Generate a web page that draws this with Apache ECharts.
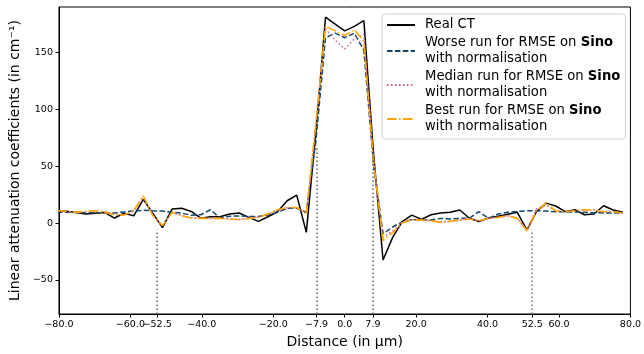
<!DOCTYPE html>
<html>
<head>
<meta charset="utf-8">
<script src="https://cdn.jsdelivr.net/npm/echarts@6/dist/echarts.min.js"></script>
<style>
  html, body { margin: 0; padding: 0; background: #fff; }
  #chart { width: 644px; height: 354px; }
</style>
</head>
<body>
<div id="chart"></div>
<script>
// sample positions along the profile (in µm)
const distance = [
  -80.55, -77.87, -75.18, -72.50, -69.81, -67.13, -64.44, -61.76, -59.07, -56.39,
  -53.70, -51.02, -48.33, -45.65, -42.96, -40.28, -37.59, -34.91, -32.22, -29.54,
  -26.85, -24.17, -21.48, -18.80, -16.11, -13.43, -10.74, -8.06, -5.37, -2.69,
  0, 2.69, 5.37, 8.06, 10.74, 13.43, 16.11, 18.80, 21.48, 24.17,
  26.85, 29.54, 32.22, 34.91, 37.59, 40.28, 42.96, 45.65, 48.33, 51.02,
  53.70, 56.39, 59.07, 61.76, 64.44, 67.13, 69.81, 72.50, 75.18, 77.87
];

const realCT = [
  10.8, 10.3, 9.2, 8.0, 8.6, 9.2, 4.4, 8.6, 6.4, 20.8,
  8.5, -4.1, 12.3, 13.0, 10.2, 4.3, 5.5, 5.5, 7.9, 8.8,
  5.0, 1.5, 5.5, 9.9, 19.6, 24.6, -8.2, 80, 181, 175,
  169, 173, 178, 62, -32.5, -12.6, 1.2, 7.0, 3.2, 7.3,
  8.8, 9.4, 11.5, 4.2, 1.3, 4.4, 6.0, 7.8, 9.4, -6.2,
  10.0, 17.5, 15.0, 10.0, 11.7, 7.3, 7.9, 15.2, 11.5, 9.4
];

const worseRun = [
  9.4, 9.4, 9.3, 9.0, 9.0, 9.2, 8.8, 9.8, 10.8, 11.2,
  10.8, 10.5, 9.5, 8.8, 6.8, 7.3, 11.7, 4.5, 6.0, 6.2,
  5.8, 5.8, 7.0, 9.4, 13.0, 13.0, 9.4, 72, 163, 167,
  163, 167, 152, 52, -9.5, -3.5, 1.0, 3.0, 2.8, 2.6,
  4.1, 3.6, 4.1, 4.4, 10.0, 4.1, 7.9, 9.4, 10.2, 10.8,
  10.8, 10.5, 10.0, 9.8, 9.6, 9.4, 9.0, 8.9, 8.8, 8.8
];

const medianRun = [
  10.5, 10.0, 9.6, 9.8, 10.3, 10.0, 7.5, 7.2, 10.5, 22.5,
  7.0, -2.0, 9.0, 6.6, 4.6, 4.3, 4.3, 4.3, 3.8, 3.2,
  4.3, 5.2, 8.0, 11.5, 13.5, 13.5, 8.7, 85, 171, 161,
  153, 162, 166, 55, -12.5, -7.0, 0.3, 2.9, 2.7, 2.2,
  0.8, 1.6, 2.6, 3.5, 2.2, 4.1, 5.0, 6.4, 4.2, -6.5,
  12.5, 15.5, 11.0, 10.0, 10.8, 11.5, 11.4, 10.2, 10.0, 9.0
];

const bestRun = [
  10.8, 10.3, 9.4, 10.3, 10.8, 9.4, 7.3, 7.0, 10.8, 24.0,
  6.4, -2.3, 9.4, 6.4, 4.4, 4.1, 4.1, 4.1, 3.5, 2.9,
  4.1, 5.0, 7.9, 11.7, 13.7, 13.7, 8.5, 88, 173, 169,
  165, 170, 160, 55, -15.5, -8.5, 0.0, 2.9, 2.6, 2.0,
  0.6, 1.5, 2.6, 3.5, 2.0, 4.1, 5.0, 6.4, 4.1, -6.7,
  10.8, 17.5, 10.8, 9.9, 10.8, 11.7, 11.4, 9.9, 9.9, 8.8
];

// dotted markers: position and the height they reach
const markerX = [-52.5, -7.9, 7.9, 52.5];
const markerTop = [-6, 68, 62, -6];

const xTicks = [-80, -60, -52.5, -40, -20, -7.9, 0, 7.9, 20, 40, 52.5, 60, 80];
const yTicks = [-50, 0, 50, 100, 150];

const seriesNames = [
  'Real CT',
  'Worse run for RMSE on Sino\nwith normalisation',
  'Median run for RMSE on Sino\nwith normalisation',
  'Best run for RMSE on Sino\nwith normalisation'
];

const FONT = 'DejaVu Sans';
const minus = (s) => s.replace('-', '\u2212');
const pairs = (ys) => distance.map((x, i) => [x, ys[i]]);

const chart = echarts.init(document.getElementById('chart'), null, { renderer: 'canvas' });

const lineSeries = (name, ys, color, type, width) => ({
  name: name,
  type: 'line',
  data: pairs(ys),
  symbol: 'none',
  showSymbol: false,
  clip: true,
  animation: false,
  itemStyle: { color: color },
  lineStyle: { color: color, type: type, width: width }
});

const option = {
  animation: false,
  grid: {
    left: 58, right: 13, top: 7, bottom: 40,
    show: true, borderColor: '#000', borderWidth: 1
  },
  legend: {
    data: seriesNames,
    orient: 'vertical',
    left: 382,
    top: 14,
    padding: [3, 5, 4, 4],
    itemGap: 2,
    itemWidth: 28,
    itemHeight: 14,
    backgroundColor: 'rgba(255,255,255,0.8)',
    borderColor: '#d0d0d0',
    borderWidth: 1,
    borderRadius: 3,
    // hide the marker dot, keep only the line sample
    itemStyle: { color: 'rgba(0,0,0,0)', borderWidth: 0, opacity: 0 },
    formatter: (name) => name.replace('Sino', '{b|Sino}'),
    textStyle: {
      fontFamily: FONT,
      fontSize: 13.2,
      lineHeight: 16,
      color: '#000',
      padding: [0, 0, 0, 5],
      rich: {
        b: { fontFamily: FONT, fontSize: 13.2, lineHeight: 16, fontWeight: 'bold', color: '#000' }
      }
    }
  },
  xAxis: {
    type: 'value',
    min: -80,
    max: 80,
    name: 'Distance (in µm)',
    nameLocation: 'middle',
    nameGap: 20,
    nameTextStyle: { fontFamily: FONT, fontSize: 14, color: '#000' },
    axisLine: { show: true, onZero: false, lineStyle: { color: '#000', width: 1 } },
    axisTick: { show: true, length: 3.5, lineStyle: { color: '#000' }, customValues: xTicks },
    axisLabel: {
      fontFamily: FONT, fontSize: 9.5, color: '#000', margin: 6,
      customValues: xTicks,
      formatter: (v) => minus(Number(v).toFixed(1))
    },
    splitLine: { show: false }
  },
  yAxis: {
    type: 'value',
    min: -80,
    max: 190,
    name: 'Linear attenuation coefficients (in cm\u207B\u00B9)',
    nameLocation: 'middle',
    nameGap: 33,
    nameTextStyle: { fontFamily: FONT, fontSize: 14, color: '#000' },
    axisLine: { show: true, onZero: false, lineStyle: { color: '#000', width: 1 } },
    axisTick: { show: true, length: 3.5, lineStyle: { color: '#000' }, customValues: yTicks },
    axisLabel: {
      fontFamily: FONT, fontSize: 9.5, color: '#000', margin: 6,
      customValues: yTicks,
      formatter: (v) => minus(String(v))
    },
    splitLine: { show: false }
  },
  series: [
    {
      name: 'markers',
      type: 'line',
      data: [],
      silent: true,
      markLine: {
        symbol: 'none',
        silent: true,
        label: { show: false },
        lineStyle: { color: '#666', type: [1.5, 2.5], width: 1.5 },
        data: markerX.map((x, i) => [{ coord: [x, -80] }, { coord: [x, markerTop[i]] }])
      }
    },
    lineSeries(seriesNames[0], realCT, '#000000', 'solid', 1.5),
    lineSeries(seriesNames[1], worseRun, '#15486b', [5.5, 2.4], 1.5),
    lineSeries(seriesNames[2], medianRun, '#cc5c9e', [1.5, 2.5], 1.5),
    lineSeries(seriesNames[3], bestRun, '#ffa500', [9.6, 2.4, 1.5, 2.4], 1.6)
  ]
};

chart.setOption(option);
</script>
</body>
</html>
